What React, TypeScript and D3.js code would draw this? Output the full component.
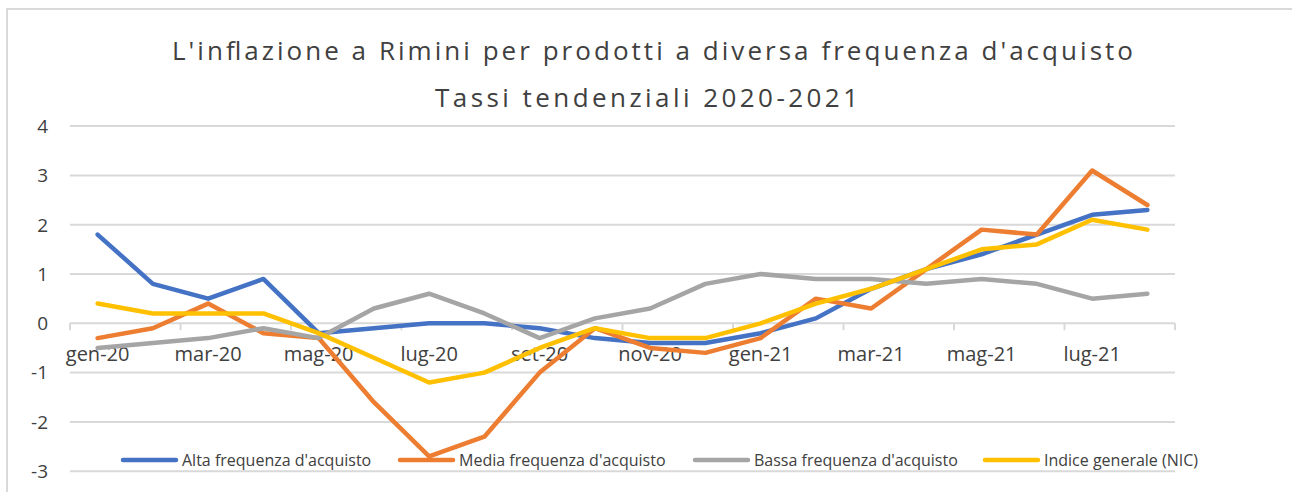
import React from "react";
import * as d3 from "d3";

const months = ["gen-20","feb-20","mar-20","apr-20","mag-20","giu-20","lug-20","ago-20","set-20","ott-20","nov-20","dic-20","gen-21","feb-21","mar-21","apr-21","mag-21","giu-21","lug-21","ago-21"];
const alta = [1.8,0.8,0.5,0.9,-0.2,-0.1,0.0,0.0,-0.1,-0.3,-0.4,-0.4,-0.2,0.1,0.7,1.1,1.4,1.8,2.2,2.3];
const media = [-0.3,-0.1,0.4,-0.2,-0.3,-1.6,-2.7,-2.3,-1.0,-0.1,-0.5,-0.6,-0.3,0.5,0.3,1.1,1.9,1.8,3.1,2.4];
const bassa = [-0.5,-0.4,-0.3,-0.1,-0.3,0.3,0.6,0.2,-0.3,0.1,0.3,0.8,1.0,0.9,0.9,0.8,0.9,0.8,0.5,0.6];
const nic = [0.4,0.2,0.2,0.2,-0.2,-0.7,-1.2,-1.0,-0.5,-0.1,-0.3,-0.3,0.0,0.4,0.7,1.1,1.5,1.6,2.1,1.9];
const yTicks = [-3,-2,-1,0,1,2,3,4];
const seriesNames = ["Alta frequenza d'acquisto","Media frequenza d'acquisto","Bassa frequenza d'acquisto","Indice generale (NIC)"];
const colors = ["#4472C4","#ED7D31","#A5A5A5","#FFC000"];
const titleLines = ["L'inflazione a Rimini per prodotti a diversa frequenza d'acquisto","Tassi tendenziali 2020-2021"];

const FONT = "'Open Sans', sans-serif";

export default function App() {
  const W = 1292, H = 492;
  const x = d3.scaleBand<string>().domain(months).range([70, 1175]).padding(0);
  const y = d3.scaleLinear().domain([-3, 4]).range([471.2, 126.1]);
  const cx = (m: string) => (x(m) as number) + x.bandwidth() / 2;
  const line = d3.line<number>().x((_, i) => cx(months[i])).y(d => y(d));
  const data = [alta, media, bassa, nic];
  const legendX = [123, 400, 695, 985];
  const tickIdx = d3.range(0, months.length + 1, 2);
  return (
    <svg width={W} height={H} style={{ position: "absolute", left: 0, top: 0, background: "#fff" }}>
      <rect x={7} y={9} width={1400} height={600} fill="#fff" stroke="#D9D9D9" strokeWidth={2} />
      <text x={172} y={60} textLength={961} lengthAdjust="spacing" fontFamily={FONT} fontSize={26} fill="#404040">{titleLines[0]}</text>
      <text x={435} y={107} textLength={423} lengthAdjust="spacing" fontFamily={FONT} fontSize={26} fill="#404040">{titleLines[1]}</text>
      {yTicks.map(t => (
        <g key={t}>
          <line x1={70} x2={1175} y1={y(t)} y2={y(t)} stroke="#D9D9D9" strokeWidth={2} />
          <text x={48} y={y(t)} dy="0.36em" textAnchor="end" fontFamily={FONT} fontSize={19} fill="#404040">{t}</text>
        </g>
      ))}
      {tickIdx.map(i => (
        <line key={i} x1={70 + i * x.bandwidth()} x2={70 + i * x.bandwidth()} y1={y(0)} y2={y(0) + 7} stroke="#D9D9D9" strokeWidth={2} />
      ))}
      {months.map((m, i) => i % 2 === 0 ? (
        <text key={m} x={cx(m)} y={361} textAnchor="middle" fontFamily={FONT} fontSize={20} fill="#404040">{m}</text>
      ) : null)}
      {data.map((d, k) => (
        <path key={k} d={line(d) as string} fill="none" stroke={colors[k]} strokeWidth={4.5} strokeLinejoin="round" strokeLinecap="round" />
      ))}
      {seriesNames.map((s, k) => (
        <g key={s}>
          <line x1={legendX[k]} x2={legendX[k] + 53} y1={460} y2={460} stroke={colors[k]} strokeWidth={4.5} strokeLinecap="round" />
          <text x={legendX[k] + 59} y={460} dy="0.36em" fontFamily={FONT} fontSize={16} fill="#404040">{s}</text>
        </g>
      ))}
    </svg>
  );
}
